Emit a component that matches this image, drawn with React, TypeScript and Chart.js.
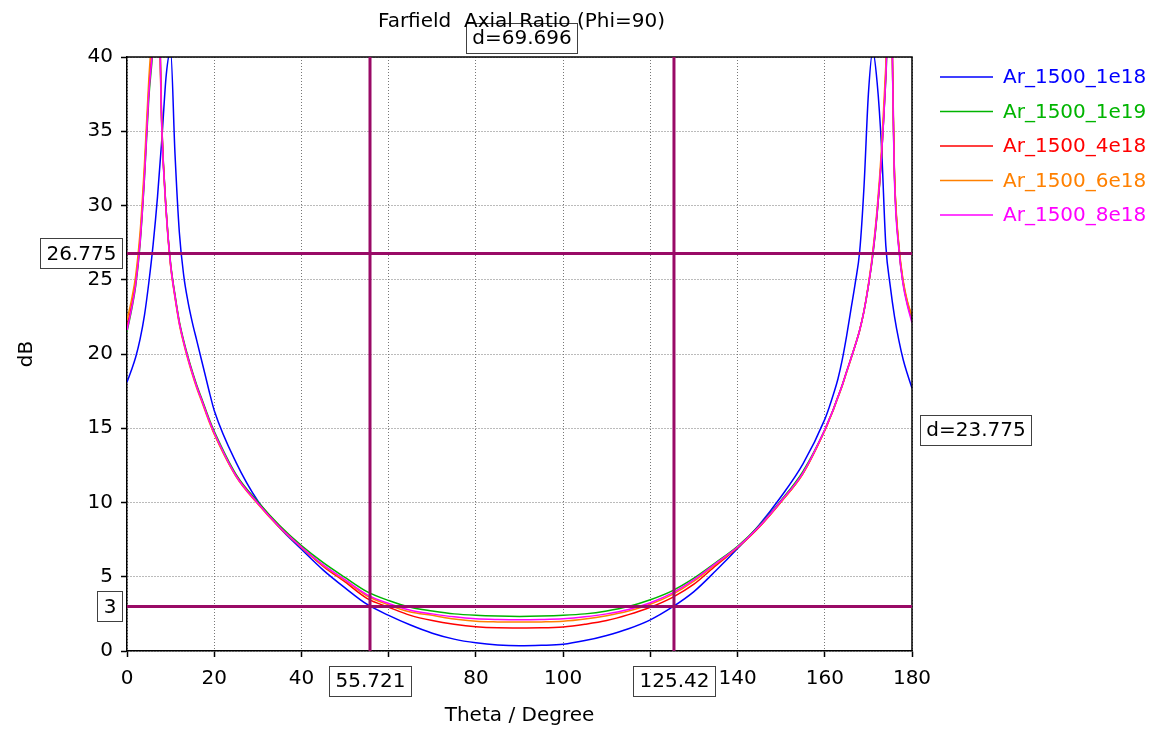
import React, { useEffect, useRef } from 'react';
import { Chart, registerables } from 'chart.js';

Chart.register(...registerables);

// Theta (degrees): 1° steps near the peaks, 5° steps in the middle
const theta = [
  0, 1, 2, 3, 4, 5, 6, 7, 8, 9, 10, 11, 12, 13, 14, 15, 16, 17, 18, 19,
  20, 25, 30, 35, 40, 45, 50, 55, 60, 65, 70, 75, 80, 85, 90, 95, 100, 105, 110, 115, 120, 125, 130, 135, 140, 145, 150, 155,
  160, 161, 162, 163, 164, 165, 166, 167, 168, 169, 170, 171, 172, 173, 174, 175, 176, 177, 178, 179, 180,
];

const ar1e18 = [
  18.1, 18.9, 19.8, 21.0, 22.6, 24.8, 27.4, 30.6, 34.5, 38.8, 40.4, 33.5, 28.2, 25.3, 23.5, 22.1, 20.9, 19.7, 18.5, 17.3,
  16.2, 12.7, 10.1, 8.3, 6.85, 5.45, 4.25, 3.15, 2.4, 1.75, 1.2, 0.8, 0.55, 0.4, 0.35, 0.38, 0.45, 0.7, 1.05, 1.5, 2.1, 2.95, 4.0, 5.4, 6.9, 8.5, 10.4, 12.6,
  15.6, 16.4, 17.3, 18.3, 19.6, 21.2, 23.0, 24.8, 26.9, 31.3, 37.5, 40.4, 38.3, 34.0, 27.3, 24.6, 22.5, 20.9, 19.6, 18.6, 17.7,
];

const ar1e19 = [
  21.5, 22.9, 24.6, 27.4, 31.8, 37.2, 40.8, 47.0, 35.2, 29.6, 26.1, 24.0, 22.2, 20.9, 19.8, 18.8, 17.9, 17.1, 16.3, 15.5,
  14.8, 11.9, 10.05, 8.45, 7.1, 5.95, 4.95, 4.0, 3.4, 2.95, 2.7, 2.5, 2.4, 2.35, 2.33, 2.35, 2.4, 2.5, 2.7, 3.0, 3.45, 4.05, 4.9, 5.95, 7.05, 8.45, 10.15, 12.1,
  14.9, 15.6, 16.3, 17.1, 17.9, 18.8, 19.7, 20.6, 21.6, 22.9, 24.6, 26.6, 29.4, 33.2, 38.5, 45.5, 31.8, 27.1, 24.7, 23.3, 22.3,
];

const ar4e18 = [
  21.8, 23.2, 24.9, 27.7, 32.2, 37.8, 41.5, 47.5, 35.3, 29.6, 26.0, 23.9, 22.1, 20.8, 19.7, 18.7, 17.8, 17.0, 16.2, 15.4,
  14.65, 11.8, 9.95, 8.35, 6.98, 5.7, 4.65, 3.55, 2.95, 2.4, 2.05, 1.8, 1.63, 1.56, 1.55, 1.56, 1.62, 1.8, 2.05, 2.45, 2.95, 3.6, 4.5, 5.75, 6.95, 8.35, 10.05, 11.95,
  14.85, 15.55, 16.3, 17.1, 17.9, 18.8, 19.7, 20.6, 21.6, 22.9, 24.6, 26.7, 29.5, 33.3, 39.0, 47.0, 32.0, 27.2, 24.8, 23.4, 22.6,
];

const ar6e18 = [
  22.3, 23.6, 25.3, 28.2, 32.8, 38.5, 42.5, 45.5, 35.0, 29.4, 25.9, 23.8, 22.0, 20.7, 19.6, 18.6, 17.7, 16.9, 16.1, 15.3,
  14.6, 11.75, 9.9, 8.3, 6.97, 5.75, 4.75, 3.72, 3.1, 2.62, 2.4, 2.15, 2.0, 1.96, 1.95, 1.96, 2.0, 2.15, 2.38, 2.7, 3.15, 3.8, 4.7, 5.85, 6.98, 8.38, 10.05, 11.95,
  14.85, 15.55, 16.25, 17.05, 17.85, 18.75, 19.65, 20.6, 21.6, 22.9, 24.7, 26.9, 29.8, 33.8, 39.5, 45.0, 32.0, 27.3, 24.9, 23.5, 22.5,
];

const ar8e18 = [
  21.6, 23.0, 24.7, 27.5, 31.9, 37.5, 41.0, 46.5, 35.0, 29.5, 26.0, 23.9, 22.1, 20.8, 19.7, 18.7, 17.8, 17.0, 16.2, 15.4,
  14.7, 11.8, 9.95, 8.35, 7.0, 5.8, 4.8, 3.8, 3.2, 2.75, 2.5, 2.3, 2.17, 2.12, 2.1, 2.12, 2.17, 2.3, 2.5, 2.8, 3.25, 3.9, 4.8, 5.9, 7.0, 8.4, 10.1, 12.0,
  14.9, 15.6, 16.3, 17.1, 17.9, 18.8, 19.7, 20.6, 21.6, 22.9, 24.6, 26.7, 29.5, 33.3, 38.6, 46.0, 31.5, 27.0, 24.6, 23.2, 22.1,
];

const seriesNames = ['Ar_1500_1e18', 'Ar_1500_1e19', 'Ar_1500_4e18', 'Ar_1500_6e18', 'Ar_1500_8e18'];
const seriesValues = [ar1e18, ar1e19, ar4e18, ar6e18, ar8e18];
const seriesColors = ['#0000ff', '#00b400', '#ff0000', '#ff8000', '#ff00ff'];

const markerX = [55.721, 125.42];
const markerXLabels = ['55.721', '125.42'];
const markerY = [3, 26.775];
const markerYLabels = ['3', '26.775'];
const deltaXLabel = 'd=69.696';
const deltaYLabel = 'd=23.775';

const titleText = 'Farfield  Axial Ratio (Phi=90)';
const xTitle = 'Theta / Degree';
const yTitle = 'dB';

const FONT = '"DejaVu Sans", sans-serif';
const FS = 20;
const MARKER_COLOR = '#990a66';

function drawBox(ctx: CanvasRenderingContext2D, text: string, x: number, cy: number, anchor: 'center' | 'left' | 'right') {
  ctx.font = `${FS}px ${FONT}`;
  const w = Math.round(ctx.measureText(text).width + 12);
  const h = 30;
  let left = x - w / 2;
  if (anchor === 'left') left = x;
  if (anchor === 'right') left = x - w;
  const top = Math.round(cy - h / 2) + 0.5;
  left = Math.round(left) + 0.5;
  ctx.fillStyle = '#ffffff';
  ctx.fillRect(left, top, w, h);
  ctx.strokeStyle = '#404040';
  ctx.lineWidth = 1;
  ctx.strokeRect(left, top, w, h);
  ctx.fillStyle = '#000000';
  ctx.textAlign = 'center';
  ctx.textBaseline = 'middle';
  ctx.fillText(text, left + w / 2, cy + 1);
}

const overlayPlugin = {
  id: 'overlay',
  afterDatasetsDraw(chart: any) {
    const { ctx, chartArea: a, scales } = chart;
    const xs = scales.x;
    const ys = scales.y;
    ctx.save();
    // frame (top and right)
    ctx.strokeStyle = '#000';
    ctx.lineWidth = 1.5;
    ctx.beginPath();
    ctx.moveTo(a.left, a.top);
    ctx.lineTo(a.right, a.top);
    ctx.lineTo(a.right, a.bottom);
    ctx.stroke();

    // marker lines
    ctx.strokeStyle = MARKER_COLOR;
    ctx.lineWidth = 3;
    const px = markerX.map((v) => xs.getPixelForValue(v));
    const py = markerY.map((v) => ys.getPixelForValue(v));
    px.forEach((p) => {
      ctx.beginPath();
      ctx.moveTo(p, a.top);
      ctx.lineTo(p, a.bottom);
      ctx.stroke();
    });
    py.forEach((p) => {
      ctx.beginPath();
      ctx.moveTo(a.left, p);
      ctx.lineTo(a.right, p);
      ctx.stroke();
    });

    // marker label boxes
    px.forEach((p, i) => drawBox(ctx, markerXLabels[i], p, a.bottom + 30, 'center'));
    py.forEach((p, i) => drawBox(ctx, markerYLabels[i], a.left - 5, p, 'right'));
    drawBox(ctx, deltaXLabel, (px[0] + px[1]) / 2, 38, 'center');
    drawBox(ctx, deltaYLabel, a.right + 8, (py[0] + py[1]) / 2, 'left');

    // title
    ctx.font = `${FS}px ${FONT}`;
    ctx.fillStyle = '#000';
    ctx.textAlign = 'center';
    ctx.textBaseline = 'alphabetic';
    ctx.fillText(titleText, (a.left + a.right) / 2 + 2, 27);

    // legend
    const lx = a.right + 28;
    seriesNames.forEach((name, i) => {
      const y = 77 + i * 34.5;
      ctx.strokeStyle = seriesColors[i];
      ctx.lineWidth = 1.5;
      ctx.beginPath();
      ctx.moveTo(lx, y);
      ctx.lineTo(lx + 53, y);
      ctx.stroke();
      ctx.fillStyle = seriesColors[i];
      ctx.textAlign = 'left';
      ctx.textBaseline = 'middle';
      ctx.font = `${FS}px ${FONT}`;
      ctx.fillText(name, lx + 63, y + 1);
    });
    ctx.restore();
  },
};

export default function App() {
  const ref = useRef<HTMLCanvasElement>(null);
  useEffect(() => {
    document.body.style.margin = '0';
    Chart.defaults.font.family = FONT;
    Chart.defaults.font.size = FS;
    Chart.defaults.color = '#000';
    const order = [4, 3, 2, 1, 0];
    const chart = new Chart(ref.current as HTMLCanvasElement, {
      type: 'line',
      data: {
        datasets: seriesNames.map((name, i) => ({
          label: name,
          data: theta.map((t, j) => ({ x: t, y: seriesValues[i][j] })),
          borderColor: seriesColors[i],
          backgroundColor: seriesColors[i],
          borderWidth: 1.5,
          pointRadius: 0,
          fill: false,
          cubicInterpolationMode: 'monotone' as const,
          clip: 0,
          order: order[i],
        })),
      },
      options: {
        responsive: false,
        animation: false,
        layout: { padding: { left: 0, right: 244, top: 57, bottom: 0 } },
        plugins: { legend: { display: false }, tooltip: { enabled: false }, title: { display: false } },
        scales: {
          x: {
            type: 'linear',
            min: 0,
            max: 180,
            ticks: { stepSize: 20, padding: 10, color: '#000', font: { size: FS } },
            grid: { color: '#777777', tickColor: '#000', tickLength: 6, tickWidth: 1.5, lineWidth: 1 },
            border: { color: '#000', width: 1.5, dash: [1, 2] },
            title: { display: true, text: xTitle, color: '#000', font: { size: FS }, padding: { top: 0, bottom: 3 } },
            afterFit: (s: any) => { s.height = 80; },
          },
          y: {
            type: 'linear',
            min: 0,
            max: 40,
            ticks: { stepSize: 5, padding: 8, color: '#000', font: { size: FS } },
            grid: { color: '#777777', tickColor: '#000', tickLength: 6, tickWidth: 1.5, lineWidth: 1 },
            border: { color: '#000', width: 1.5, dash: [1, 2] },
            title: { display: true, text: yTitle, color: '#000', font: { size: FS }, padding: { top: 15, bottom: 0 } },
            afterFit: (s: any) => { s.width = 127; },
          },
        },
      },
      plugins: [overlayPlugin],
    } as any);
    return () => chart.destroy();
  }, []);
  return (
    <div style={{ width: 1156, height: 731, background: '#fff' }}>
      <canvas ref={ref} width={1156} height={731} style={{ display: 'block' }} />
    </div>
  );
}
